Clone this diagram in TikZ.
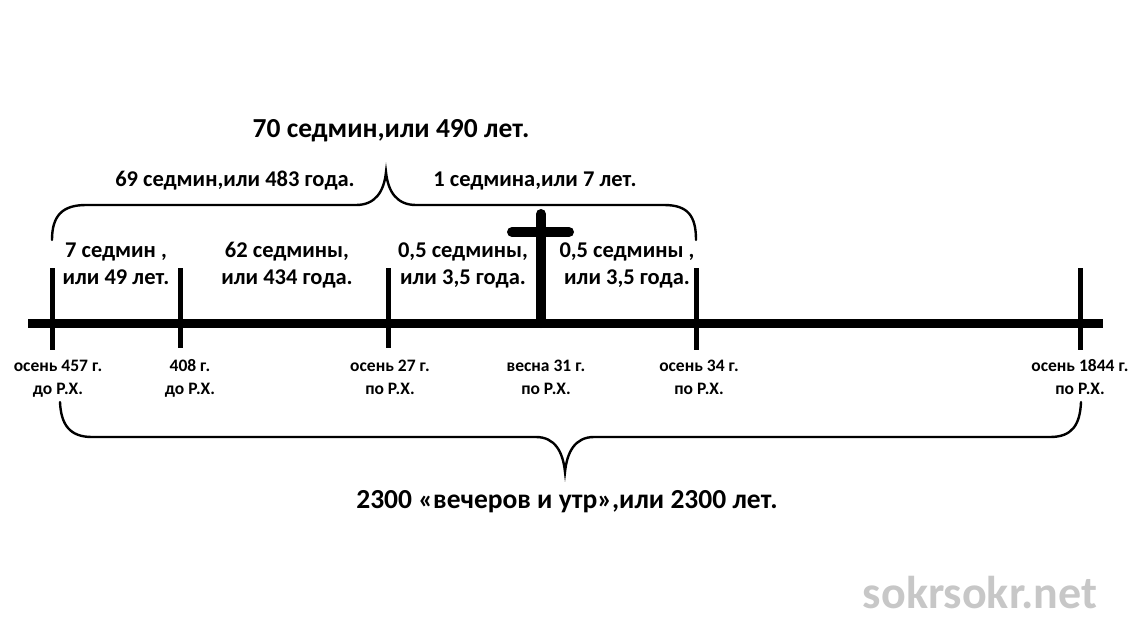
\documentclass[tikz,border=0pt]{standalone}
\usepackage{fontspec}
\setmainfont{Carlito}
\begin{document}
\begin{tikzpicture}[x=1pt,y=-1pt,
  axisline/.style={line width=9pt},
  tickline/.style={line width=5pt},
  crossline/.style={line width=10pt,line cap=round},
  braceline/.style={line width=2.4pt,line cap=round},
  titletext/.style={font=\fontsize{27.5}{32}\selectfont\bfseries,inner sep=0pt},
  midtext/.style={font=\fontsize{22.5}{27}\selectfont\bfseries,align=center,inner sep=0pt,anchor=base},
  smalltext/.style={font=\fontsize{17.5}{23}\selectfont\bfseries,align=center,inner sep=0pt,anchor=base},
  marktext/.style={font=\fontsize{46}{50}\selectfont\bfseries,inner sep=0pt}]
\useasboundingbox[fill=white] (0,0) rectangle (1134,640);

% axis
\coordinate (axL) at (28,323);
\coordinate (axR) at (1103,323);
\draw[axisline] (axL) -- (axR);

% ticks
\coordinate (t1a) at (52,268);  \coordinate (t1b) at (52,350);
\coordinate (t2a) at (180,268); \coordinate (t2b) at (180,348);
\coordinate (t3a) at (388,268); \coordinate (t3b) at (388,348);
\coordinate (t4a) at (696,268); \coordinate (t4b) at (696,350);
\coordinate (t5a) at (1080,268);\coordinate (t5b) at (1080,350);
\foreach \t in {1,...,5} \draw[tickline] (t\t a) -- (t\t b);

% cross
\coordinate (crT) at (541,214);
\coordinate (crB) at (541,323);
\coordinate (crL) at (512,232);
\coordinate (crR) at (569,232);
\draw[crossline] (crT) -- (crB);
\draw[crossline] (crL) -- (crR);

% top brace
\draw[braceline] (52,240) .. controls (52,216) and (62,205) .. (86,205) -- (356,205)
  .. controls (375,205) and (384,192) .. (386,172)
  .. controls (388,192) and (397,205) .. (416,205) -- (664,205)
  .. controls (688,205) and (696,216) .. (696,240);

% bottom brace
\draw[braceline] (60,402) .. controls (61,425) and (70,437) .. (92,437) -- (536,437)
  .. controls (555,437) and (563,452) .. (565,472)
  .. controls (567,452) and (575,437) .. (594,437) -- (1050,437)
  .. controls (1072,437) and (1080,425) .. (1081,402);

% top texts
\node[titletext] (title) at (391,131) {70 седмин,или 490 лет.};
\node[midtext,anchor=center] (b69) at (235,181) {69 седмин,или 483 года.};
\node[midtext,anchor=center] (b1) at (535,181) {1 седмина,или 7 лет.};

% segment texts
\node[midtext] (s1) at (116,284) {7 седмин ,\\или 49 лет.};
\node[midtext] (s2) at (287,284) {62 седмины,\\или 434 года.};
\node[midtext] (s3) at (463,284) {0,5 седмины,\\или 3,5 года.};
\node[midtext] (s4) at (627,284) {0,5 седмины ,\\или 3,5 года.};

% dates
\node[smalltext] (d1) at (58,394) {осень 457 г.\\до Р.Х.};
\node[smalltext] (d2) at (190,394) {408 г.\\до Р.Х.};
\node[smalltext] (d3) at (390,394) {осень 27 г.\\по Р.Х.};
\node[smalltext] (d4) at (546,394) {весна 31 г.\\по Р.Х.};
\node[smalltext] (d5) at (699,394) {осень 34 г.\\по Р.Х.};
\node[smalltext] (d6) at (1080,394) {осень 1844 г.\\по Р.Х.};

% bottom text
\node[titletext] (total) at (567,502) {2300 «вечеров и утр»,или 2300 лет.};

% watermark
\node[marktext,text=black!22] (wm) at (980,593) {sokrsokr.net};
\end{tikzpicture}
\end{document}
